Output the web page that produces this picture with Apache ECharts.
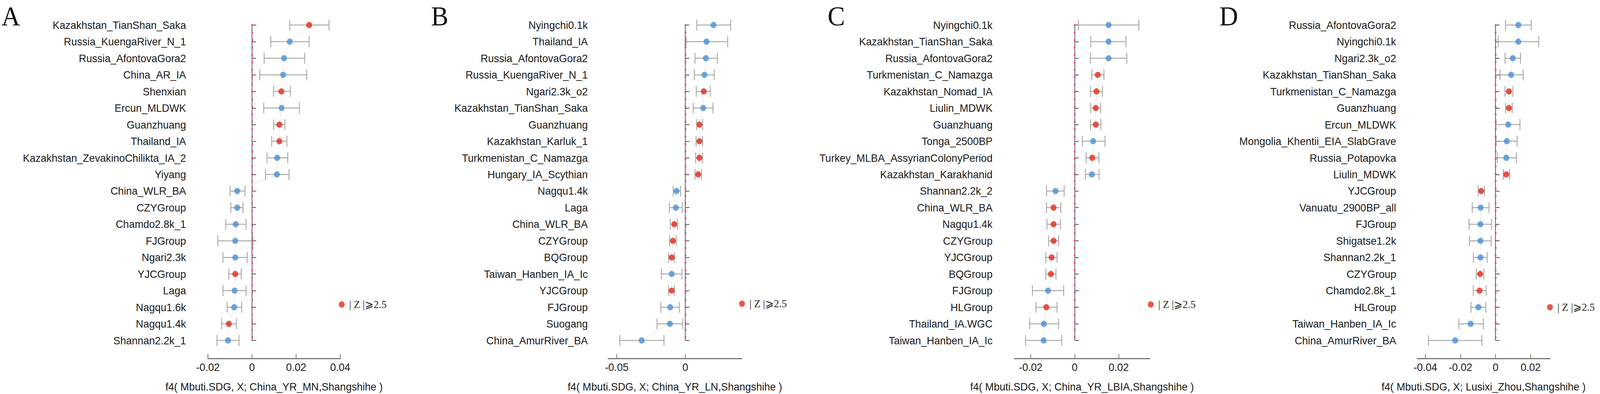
<!DOCTYPE html>
<html>
<head>
<meta charset="utf-8">
<title>f4 statistics</title>
<script src="https://cdn.jsdelivr.net/npm/echarts@6.0.0/dist/echarts.min.js"></script>
<style>
    html, body { margin: 0; padding: 0; background: #fff; overflow: hidden; }
    #chart { width: 4317px; height: 1008px; transform-origin: 0 0; }
</style>
</head>
<body>
<div id="chart"></div>
<script>
// panel A
var labelsA = ['Kazakhstan_TianShan_Saka', 'Russia_KuengaRiver_N_1', 'Russia_AfontovaGora2', 'China_AR_IA', 'Shenxian', 'Ercun_MLDWK', 'Guanzhuang', 'Thailand_IA', 'Kazakhstan_ZevakinoChilikta_IA_2', 'Yiyang', 'China_WLR_BA', 'CZYGroup', 'Chamdo2.8k_1', 'FJGroup', 'Ngari2.3k', 'YJCGroup', 'Laga', 'Nagqu1.6k', 'Nagqu1.4k', 'Shannan2.2k_1'];
var estA = [0.0259, 0.0171, 0.0145, 0.0141, 0.0133, 0.0134, 0.0124, 0.0124, 0.0114, 0.0113, -0.0067, -0.0067, -0.0074, -0.0076, -0.0076, -0.0076, -0.0079, -0.0081, -0.0105, -0.0109];
var lowA = [0.0171, 0.0085, 0.0055, 0.0035, 0.0098, 0.0053, 0.0098, 0.0089, 0.0068, 0.0061, -0.0100, -0.0096, -0.0119, -0.0155, -0.0132, -0.0105, -0.0132, -0.0113, -0.0138, -0.0159];
var highA = [0.0349, 0.0259, 0.0239, 0.0248, 0.0174, 0.0215, 0.0149, 0.0158, 0.0162, 0.0168, -0.0032, -0.0041, -0.0027, 0.0004, -0.0022, -0.0049, -0.0027, -0.0047, -0.0071, -0.0059];
var sigA = [1, 0, 0, 0, 1, 0, 1, 1, 0, 0, 0, 0, 0, 0, 0, 1, 0, 0, 1, 0];
var rangeA = [-0.02, 0.04];
var ticksA = [-0.02, 0, 0.02, 0.04];

// panel B
var labelsB = ['Nyingchi0.1k', 'Thailand_IA', 'Russia_AfontovaGora2', 'Russia_KuengaRiver_N_1', 'Ngari2.3k_o2', 'Kazakhstan_TianShan_Saka', 'Guanzhuang', 'Kazakhstan_Karluk_1', 'Turkmenistan_C_Namazga', 'Hungary_IA_Scythian', 'Nagqu1.4k', 'Laga', 'China_WLR_BA', 'CZYGroup', 'BQGroup', 'Taiwan_Hanben_IA_Ic', 'YJCGroup', 'FJGroup', 'Suogang', 'China_AmurRiver_BA'];
var estB = [0.0206, 0.0155, 0.0150, 0.0140, 0.0135, 0.0131, 0.0103, 0.0103, 0.0103, 0.0094, -0.0064, -0.0069, -0.0080, -0.0090, -0.0099, -0.0099, -0.0099, -0.0110, -0.0112, -0.0318];
var lowB = [0.0084, 0.0006, 0.0071, 0.0066, 0.0080, 0.0058, 0.0084, 0.0079, 0.0075, 0.0071, -0.0088, -0.0116, -0.0109, -0.0114, -0.0122, -0.0174, -0.0122, -0.0178, -0.0206, -0.0477];
var highB = [0.0331, 0.0309, 0.0234, 0.0211, 0.0183, 0.0202, 0.0127, 0.0125, 0.0127, 0.0118, -0.0034, -0.0022, -0.0056, -0.0066, -0.0079, -0.0024, -0.0079, -0.0043, -0.0019, -0.0155];
var sigB = [0, 0, 0, 0, 1, 0, 1, 1, 1, 1, 0, 0, 1, 1, 1, 0, 1, 0, 0, 0];
var rangeB = [-0.0562, 0.0411];
var ticksB = [-0.05, 0];

// panel C
var labelsC = ['Nyingchi0.1k', 'Kazakhstan_TianShan_Saka', 'Russia_AfontovaGora2', 'Turkmenistan_C_Namazga', 'Kazakhstan_Nomad_IA', 'Liulin_MDWK', 'Guanzhuang', 'Tonga_2500BP', 'Turkey_MLBA_AssyrianColonyPeriod', 'Kazakhstan_Karakhanid', 'Shannan2.2k_2', 'China_WLR_BA', 'Nagqu1.4k', 'CZYGroup', 'YJCGroup', 'BQGroup', 'FJGroup', 'HLGroup', 'Thailand_IA.WGC', 'Taiwan_Hanben_IA_Ic'];
var estC = [0.0154, 0.0154, 0.0154, 0.0105, 0.0099, 0.0096, 0.0096, 0.0084, 0.0080, 0.0078, -0.0087, -0.0096, -0.0096, -0.0096, -0.0105, -0.0108, -0.0121, -0.0129, -0.0140, -0.0141];
var lowC = [0.0017, 0.0073, 0.0071, 0.0078, 0.0072, 0.0073, 0.0072, 0.0035, 0.0052, 0.0049, -0.0128, -0.0128, -0.0126, -0.0119, -0.0131, -0.0131, -0.0192, -0.0176, -0.0205, -0.0223];
var highC = [0.0292, 0.0233, 0.0237, 0.0133, 0.0126, 0.0118, 0.0119, 0.0138, 0.0110, 0.0111, -0.0048, -0.0063, -0.0065, -0.0073, -0.0080, -0.0085, -0.0050, -0.0080, -0.0073, -0.0059];
var sigC = [0, 0, 0, 1, 1, 1, 1, 0, 1, 0, 0, 1, 1, 1, 1, 1, 0, 1, 0, 0];
var rangeC = [-0.0274, 0.0341];
var ticksC = [-0.02, 0, 0.02];

// panel D
var labelsD = ['Russia_AfontovaGora2', 'Nyingchi0.1k', 'Ngari2.3k_o2', 'Kazakhstan_TianShan_Saka', 'Turkmenistan_C_Namazga', 'Guanzhuang', 'Ercun_MLDWK', 'Mongolia_Khentii_EIA_SlabGrave', 'Russia_Potapovka', 'Liulin_MDWK', 'YJCGroup', 'Vanuatu_2900BP_all', 'FJGroup', 'Shigatse1.2k', 'Shannan2.2k_1', 'CZYGroup', 'Chamdo2.8k_1', 'HLGroup', 'Taiwan_Hanben_IA_Ic', 'China_AmurRiver_BA'];
var estD = [0.0130, 0.0130, 0.0098, 0.0089, 0.0076, 0.0076, 0.0072, 0.0064, 0.0061, 0.0061, -0.0082, -0.0085, -0.0086, -0.0086, -0.0086, -0.0088, -0.0091, -0.0098, -0.0142, -0.0230];
var lowD = [0.0057, 0.0015, 0.0054, 0.0025, 0.0054, 0.0057, 0.0003, 0.0003, 0.0010, 0.0044, -0.0099, -0.0133, -0.0151, -0.0148, -0.0126, -0.0110, -0.0127, -0.0140, -0.0209, -0.0382];
var highD = [0.0203, 0.0246, 0.0142, 0.0157, 0.0099, 0.0095, 0.0139, 0.0123, 0.0119, 0.0080, -0.0063, -0.0037, -0.0023, -0.0025, -0.0048, -0.0067, -0.0054, -0.0056, -0.0070, -0.0078];
var sigD = [0, 0, 0, 0, 1, 1, 0, 0, 0, 1, 1, 0, 0, 0, 0, 1, 1, 0, 0, 0];
var rangeD = [-0.0446, 0.0310];
var ticksD = [-0.04, -0.02, 0, 0.02];

var panelLetters = ['A', 'B', 'C', 'D'];
var axisTitles = [
    'f4( Mbuti.SDG, X; China_YR_MN,Shangshihe )',
    'f4( Mbuti.SDG, X; China_YR_LN,Shangshihe )',
    'f4( Mbuti.SDG, X; China_YR_LBIA,Shangshihe )',
    'f4( Mbuti.SDG, X; Lusixi_Zhou,Shangshihe )'
];
var legendName = '| Z |⩾2.5';

(function () {
    var RED = '#e32b1a';
    var BLUE = '#4a8fd6';
    var SANS = 'Liberation Sans, Arial, sans-serif';
    var SERIF = 'Liberation Serif, Times New Roman, serif';

    // the figure is laid out at 4317x1008 and fitted to the window
    var el = document.getElementById('chart');
    var sx = (window.innerWidth || 4317) / 4317;
    var sy = (window.innerHeight || 1008) / 1008;
    el.style.transform = 'scale(' + sx + ',' + sy + ')';

    var panels = [
        { labels: labelsA, est: estA, low: lowA, high: highA, sig: sigA, range: rangeA, ticks: ticksA },
        { labels: labelsB, est: estB, low: lowB, high: highB, sig: sigB, range: rangeB, ticks: ticksB },
        { labels: labelsC, est: estC, low: lowC, high: highC, sig: sigC, range: rangeC, ticks: ticksC },
        { labels: labelsD, est: estD, low: lowD, high: highD, sig: sigD, range: rangeD, ticks: ticksD }
    ];
    // layout (pixels)
    var gridLeft = [561, 1641, 2737, 3824];
    var gridWidth = [357, 360, 365, 358];
    var yOffset = [49, 45, 49, 47];
    var letterLeft = [4, 1163, 2233, 3290];
    var legendLeft = [914, 1994, 3097, 4174];
    var legendTop = [765, 763, 765, 772];

    var chart = echarts.init(el, null, { renderer: 'svg' });
    var option = {
        backgroundColor: '#fff',
        animation: false,
        title: [],
        legend: [],
        grid: [],
        xAxis: [],
        yAxis: [],
        series: []
    };

    panels.forEach(function (p, i) {
        option.title.push({
            text: panelLetters[i], left: letterLeft[i], top: 6, padding: 0,
            textStyle: { fontFamily: SERIF, fontSize: 70, fontWeight: 'normal', color: '#111' }
        });
        option.legend.push({
            data: [{ name: legendName, icon: 'circle' }],
            left: legendLeft[i], top: legendTop[i], padding: 0,
            itemWidth: 16, itemHeight: 16, selectedMode: false,
            formatter: function (n) { return ' ' + n; },
            textStyle: { fontFamily: SERIF, fontSize: 28, color: '#222' }
        });
        option.grid.push({ left: gridLeft[i], width: gridWidth[i], top: 64, height: 815 });
        option.xAxis.push({
            gridIndex: i, type: 'value', min: p.range[0], max: p.range[1], offset: 46,
            name: axisTitles[i], nameLocation: 'middle', nameGap: 58,
            nameTextStyle: { fontFamily: SANS, fontSize: 28, color: '#1a1a1a' },
            axisLine: { show: true, lineStyle: { color: '#777', width: 3 } },
            axisTick: { show: true, inside: true, length: 11, customValues: p.ticks, lineStyle: { color: '#777', width: 2 } },
            axisLabel: { customValues: p.ticks, margin: 8, fontFamily: SANS, fontSize: 28, color: '#1a1a1a',
                formatter: function (v) { return String(+v.toFixed(4)); } },
            splitLine: { show: false }
        });
        option.yAxis.push({
            gridIndex: i, type: 'category', data: p.labels, inverse: true, boundaryGap: false, offset: yOffset[i],
            axisLine: { show: true, lineStyle: { color: '#555', width: 2 } },
            axisTick: { show: true, inside: true, length: 11, interval: 0, lineStyle: { color: '#555', width: 2 } },
            axisLabel: { interval: 0, margin: 10, fontFamily: SANS, fontSize: 28, color: '#1a1a1a' },
            splitLine: { show: false }
        });

        // error bars
        option.series.push({
            type: 'custom', xAxisIndex: i, yAxisIndex: i, z: 2,
            data: p.labels.map(function (_, j) { return [j, p.low[j], p.high[j]]; }),
            encode: { y: 0, x: [1, 2] },
            renderItem: function (params, api) {
                var idx = api.value(0);
                var a = api.coord([api.value(1), idx]);
                var b = api.coord([api.value(2), idx]);
                var cap = 14;
                var st = { stroke: '#aaa', lineWidth: 2.5 };
                return {
                    type: 'group',
                    children: [
                        { type: 'line', shape: { x1: a[0], y1: a[1], x2: b[0], y2: b[1] }, style: st },
                        { type: 'line', shape: { x1: a[0], y1: a[1] - cap, x2: a[0], y2: a[1] + cap }, style: st },
                        { type: 'line', shape: { x1: b[0], y1: b[1] - cap, x2: b[0], y2: b[1] + cap }, style: st }
                    ]
                };
            }
        });
        // faint dotted connector
        option.series.push({
            type: 'line', xAxisIndex: i, yAxisIndex: i, z: 1, symbol: 'none', silent: true,
            data: p.est.map(function (v, j) { return [v, j]; }),
            lineStyle: { type: 'dotted', color: '#d0d0d0', width: 1.5 }
        });
        // points + zero line
        option.series.push({
            type: 'scatter', xAxisIndex: i, yAxisIndex: i, z: 3, symbolSize: 16,
            data: p.est.map(function (v, j) {
                return { value: [v, j], itemStyle: { color: p.sig[j] ? RED : BLUE } };
            }),
            markLine: {
                silent: true, symbol: 'none', animation: false,
                label: { show: false },
                lineStyle: { color: '#e63f7c', width: 4.5, type: [1, 18], cap: 'round' },
                data: [{ xAxis: 0 }]
            }
        });
    });

    // legend entry only
    option.series.push({
        name: legendName, type: 'scatter', xAxisIndex: 0, yAxisIndex: 0,
        data: [], itemStyle: { color: RED }
    });

    chart.setOption(option);
})();
</script>
</body>
</html>
